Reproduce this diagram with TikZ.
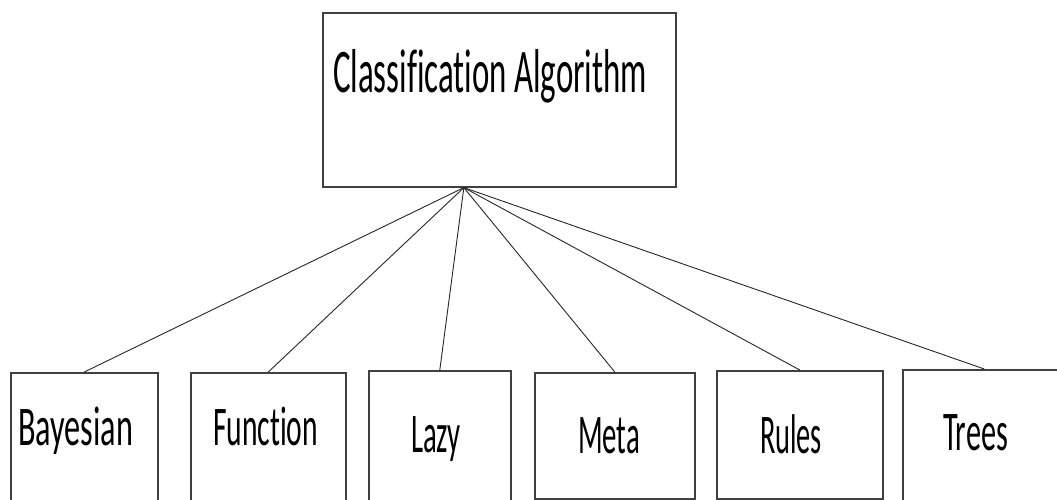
\documentclass[tikz,border=0pt]{standalone}
\usepackage{fontspec}
\setmainfont{Carlito}[Ligatures=NoCommon]
\usepackage{graphicx}
\usetikzlibrary{positioning, calc}
\tikzstyle{box}=[draw=black!75, line width=1.6pt, inner sep=0pt, anchor=north west]
\tikzstyle{link}=[draw=black!85, line width=0.9pt]
\tikzstyle{caption}=[inner sep=0pt, anchor=base]
\newcommand{\squeezeto}[2]{\resizebox{#1pt}{\height}{#2}}

\begin{document}
\begin{tikzpicture}[x=1pt, y=-1pt]
    \useasboundingbox (0,0) rectangle (1057,499);
    \clip (0,0) rectangle (1057,499);

    % root box
    \node [box, minimum width=353pt, minimum height=174pt] (algo-box) at (322,12) {};
    \node [caption, font=\fontsize{62}{62}\selectfont] (algo) at (490,92)
        {\squeezeto{314}{Classification Algorithm}};
    \coordinate (hub) at ($(algo-box.south west)!0.4!(algo-box.south east)$);

    % leaf boxes: name/left/right/top/bottom/text x/baseline/text width
    \foreach \n/\l/\r/\t/\b/\x/\y/\w in {
        Bayesian/10/157/372/510/75.5/445/115,
        Function/190/345/372/510/265.5/445/105,
        Lazy/368/510/370/510/436/452/50,
        Meta/534/694/372/498/609/453/62,
        Rules/716/882/370/498/791/453/62,
        Trees/902/1065/369/510/975.5/450/65}
    {
        \node [box, minimum width={(\r-\l)*1pt}, minimum height={(\b-\t)*1pt}] (\n-box) at (\l,\t) {};
        \node [caption, font=\fontsize{56}{56}\selectfont] (\n) at (\x,\y) {\squeezeto{\w}{\n}};
        \draw [link] (hub) -- (\n-box.north);
    }
\end{tikzpicture}
\end{document}
